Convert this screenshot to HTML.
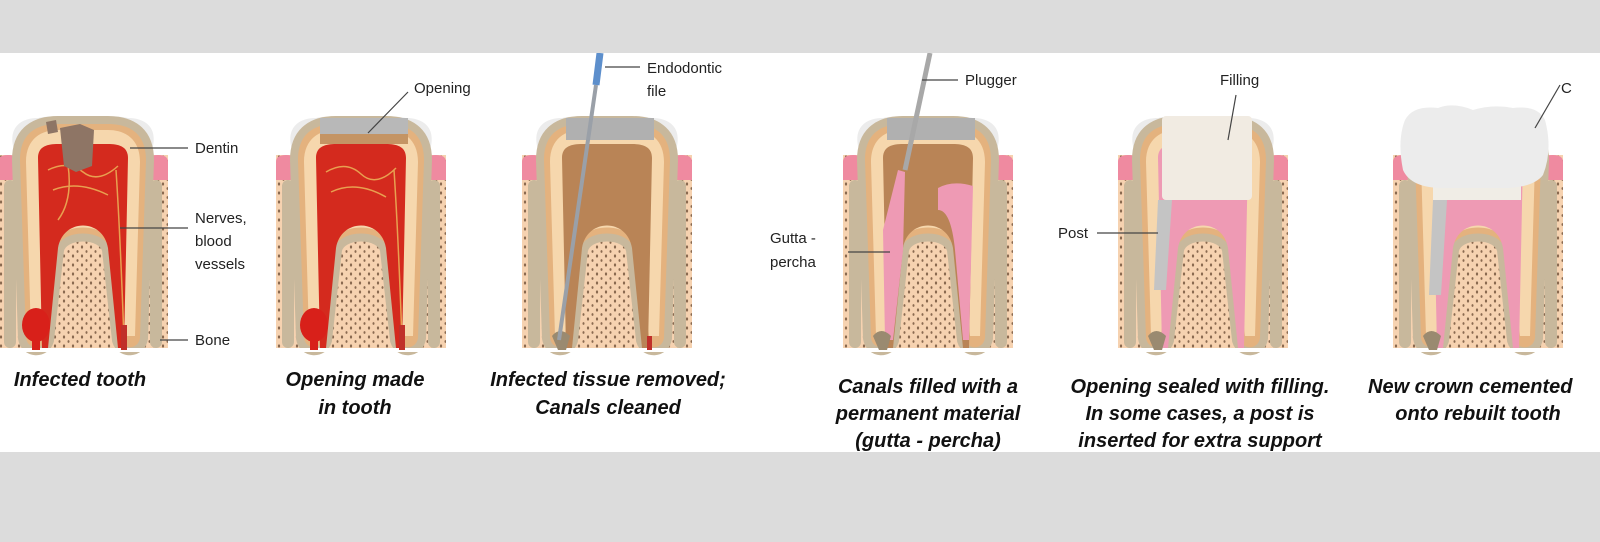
<!DOCTYPE html>
<html><head><meta charset="utf-8"><style>
html,body{margin:0;padding:0;background:#dcdcdc;}
svg{display:block}
.l{font-family:"Liberation Sans",sans-serif;font-size:15px;fill:#222}
.c{font-family:"Liberation Sans",sans-serif;font-size:20px;font-weight:bold;font-style:italic;fill:#111;text-anchor:middle}
.ln{stroke:#444;stroke-width:1.2;fill:none}
</style></head><body>
<svg width="1600" height="542" viewBox="0 0 1600 542" xmlns="http://www.w3.org/2000/svg">
<defs>
<pattern id="dots" width="9" height="9" patternUnits="userSpaceOnUse">
<rect width="9" height="9" fill="#f6d2b0"/><ellipse cx="3" cy="3" rx="1.1" ry="1.6" fill="#8a6a50"/><ellipse cx="7.5" cy="7.5" rx="1" ry="1.4" fill="#8a6a50"/></pattern>
<g id="base">
<rect x="0" y="55" width="170" height="195" fill="url(#dots)"/>
<path d="M0,62 Q0,55 10,55 Q22,55 24,66 L24,80 L0,80Z" fill="#ef8aa0"/>
<path d="M170,62 Q170,55 160,55 Q148,55 146,66 L146,80 L170,80Z" fill="#ef8aa0"/>
<rect x="6" y="80" width="12" height="168" rx="6" fill="#c8b89c"/>
<rect x="152" y="80" width="12" height="168" rx="6" fill="#c8b89c"/>
<path d="M22,60 C22,32 40,24 60,24 L110,24 C130,24 148,32 148,60 L142,238 C140,250 125,250 122,240 L112,150 C108,128 62,128 58,150 L48,240 C45,250 30,250 28,238 Z" fill="#c8b89c" stroke="#c8b89c" stroke-width="16"/>
<path d="M22,60 C22,32 40,24 60,24 L110,24 C130,24 148,32 148,60 L142,238 C140,250 125,250 122,240 L112,150 C108,128 62,128 58,150 L48,240 C45,250 30,250 28,238 Z" fill="#e4b27e"/>
<path d="M28,62 C28,38 44,30 60,30 L110,30 C126,30 142,38 142,62 L137,236 L127,236 L117,150 C112,120 58,120 53,150 L43,236 L33,236 Z" fill="#f6d7ad"/>
<rect x="-8" y="248" width="186" height="4" fill="#fff"/>
</g>
<path id="enamel" d="M16,50 C10,30 20,18 40,18 Q60,14 85,20 Q110,14 130,18 C150,18 160,30 154,50 L148,62 L22,62Z" fill="#ececec"/>
<path id="pulp" d="M40,58 C40,46 50,44 60,44 L110,44 C120,44 130,46 130,58 L126,248 L120,248 L110,148 C105,118 65,118 60,148 L50,248 L44,248 Z"/>
</defs>
<rect x="0" y="53" width="1600" height="399" fill="#fff"/>

<g transform="translate(-2,100)">
<use href="#enamel"/><use href="#base"/>
<use href="#pulp" fill="#d42a1e"/>
<path d="M50,70 Q70,60 85,72 T120,66 M55,90 Q80,80 110,95 M70,65 Q75,100 60,120 M118,70 Q122,130 126,240" stroke="#e8a050" stroke-width="1.5" fill="none"/>
<ellipse cx="38" cy="225" rx="14" ry="17" fill="#d8201a"/>
<rect x="34" y="235" width="8" height="15" fill="#d8201a"/>
<rect x="123" y="225" width="6" height="25" fill="#c0302a"/>
<path d="M62,28 L82,24 L96,30 L94,66 L78,72 L66,66Z" fill="#8e7565"/>
<path d="M48,22 L58,20 L60,32 L50,34Z" fill="#8e7565"/>
</g>
<path class="ln" d="M130,148 L188,148 M120,228 L188,228 M160,340 L188,340"/>
<text class="l" x="195" y="153">Dentin</text>
<text class="l" x="195" y="223">Nerves,</text><text class="l" x="195" y="246">blood</text><text class="l" x="195" y="269">vessels</text>
<text class="l" x="195" y="345">Bone</text>
<text class="c" x="80" y="386">Infected tooth</text>

<g transform="translate(276,100)">
<use href="#enamel"/><use href="#base"/>
<use href="#pulp" fill="#d42a1e"/>
<path d="M50,72 Q70,60 85,74 T120,68 M55,92 Q80,80 110,97 M118,70 Q122,130 126,240" stroke="#e8a050" stroke-width="1.5" fill="none"/>
<rect x="44" y="18" width="88" height="22" fill="#b8b8b8"/>
<rect x="44" y="34" width="88" height="10" fill="#c49464"/>
<ellipse cx="38" cy="225" rx="14" ry="17" fill="#d8201a"/>
<rect x="34" y="235" width="8" height="15" fill="#d8201a"/>
<rect x="123" y="225" width="6" height="25" fill="#c0302a"/>
</g>
<path class="ln" d="M368,133 L408,92"/>
<text class="l" x="414" y="93">Opening</text>
<text class="c" x="355" y="386">Opening made</text>
<text class="c" x="355" y="414">in tooth</text>

<g transform="translate(522,100)">
<use href="#enamel"/><use href="#base"/>
<use href="#pulp" fill="#b98456"/>
<rect x="44" y="18" width="88" height="22" fill="#b0b0b0"/>
<path d="M30,236 Q38,226 48,236 L44,250 L36,250Z" fill="#9a8a70"/>
<rect x="125" y="236" width="5" height="14" fill="#c0302a"/>
</g>
<path d="M600,53 L596,85" stroke="#5d8fcc" stroke-width="7"/>
<path d="M596,85 L559,340" stroke="#9aa0a8" stroke-width="4"/>
<path class="ln" d="M605,67 L640,67"/>
<text class="l" x="647" y="73">Endodontic</text><text class="l" x="647" y="96">file</text>
<text class="c" x="608" y="386">Infected tissue removed;</text>
<text class="c" x="608" y="414">Canals cleaned</text>

<g transform="translate(843,100)">
<use href="#enamel"/><use href="#base"/>
<use href="#pulp" fill="#b98456"/>
<path d="M40,130 L55,70 L62,72 L60,150 L50,240 L42,240Z" fill="#ee9ab4"/>
<path d="M95,88 Q110,80 130,86 L126,240 L120,240 L112,150 Q108,110 95,110Z" fill="#ee9ab4"/>
<rect x="44" y="18" width="88" height="22" fill="#b0b0b0"/>
<path d="M30,236 Q38,226 48,236 L44,250 L36,250Z" fill="#9a8a70"/>
</g>
<path d="M930,53 L905,170" stroke="#a8a8a8" stroke-width="5"/>
<path class="ln" d="M922,80 L958,80"/>
<text class="l" x="965" y="85">Plugger</text>
<path class="ln" d="M848,252 L890,252"/>
<text class="l" x="770" y="243">Gutta -</text><text class="l" x="770" y="267">percha</text>
<text class="c" x="928" y="393">Canals filled with a</text>
<text class="c" x="928" y="420">permanent material</text>
<text class="c" x="928" y="447">(gutta - percha)</text>

<g transform="translate(1118,100)">
<use href="#enamel"/><use href="#base"/>
<use href="#pulp" fill="#ee9ab4"/>
<rect x="44" y="16" width="90" height="84" rx="4" fill="#f1ebe2"/>
<path d="M40,100 L54,100 L48,190 L36,190Z" fill="#c4c4c4"/>
<path d="M30,236 Q38,226 48,236 L44,250 L36,250Z" fill="#9a8a70"/>
</g>
<path class="ln" d="M1097,233 L1158,233 M1228,140 L1236,95"/>
<text class="l" x="1058" y="238">Post</text>
<text class="l" x="1220" y="85">Filling</text>
<text class="c" x="1200" y="393">Opening sealed with filling.</text>
<text class="c" x="1200" y="420">In some cases, a post is</text>
<text class="c" x="1200" y="447">inserted for extra support</text>

<g transform="translate(1393,100)">
<use href="#base"/>
<use href="#pulp" fill="#ee9ab4"/>
<path d="M40,100 L54,100 L48,195 L36,195Z" fill="#c4c4c4"/>
<rect x="40" y="84" width="88" height="16" fill="#f0ede6"/>
<path d="M12,20 Q20,5 45,8 Q60,2 80,10 Q100,4 120,8 Q145,5 152,20 Q160,50 150,75 Q140,88 110,88 L50,88 Q18,88 10,70 Q4,40 12,20Z" fill="#ececec"/>
<path d="M30,236 Q38,226 48,236 L44,250 L36,250Z" fill="#9a8a70"/>
</g>
<path class="ln" d="M1535,128 L1560,85"/>
<text class="l" x="1561" y="93">C</text>
<text class="c" x="1368" y="393" style="text-anchor:start">New crown cemented</text>
<text class="c" x="1478" y="420">onto rebuilt tooth</text>

<rect x="0" y="452" width="1600" height="90" fill="#dcdcdc"/>
<rect x="0" y="0" width="1600" height="53" fill="#dcdcdc"/>
</svg>
</body></html>
